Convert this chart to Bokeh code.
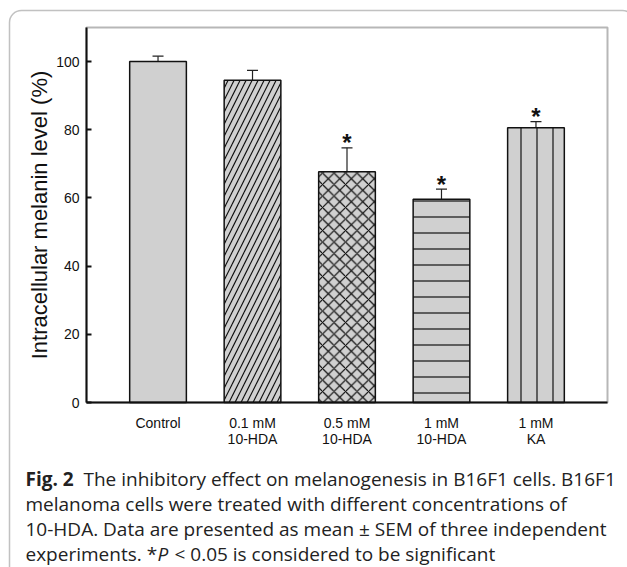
from bokeh.plotting import figure
from bokeh.models import (ColumnDataSource, Whisker, TeeHead, BoxAnnotation, Label,
                          FixedTicker, Range1d, LinearAxis)
from bokeh.embed import file_html
from bokeh.resources import INLINE
from bokeh.core.properties import value

# ---------------- data ----------------
categories = ["Control", "0.1 mM\n10-HDA", "0.5 mM\n10-HDA", "1 mM\n10-HDA", "1 mM\nKA"]
melanin = [100.0, 94.5, 67.7, 59.6, 80.6]
sem = [1.6, 2.9, 7.0, 3.0, 1.8]
significant = [False, False, True, True, True]
y_ticks = [0, 20, 40, 60, 80, 100]

# ---------------- styles / layout ----------------
hatches = [" ", "/", "x", "-", "|"]
hatch_scales = [12, 12, 11.5, 16, 16]
FONT = "Liberation Sans"
CAP_FONT = "Open Sans"

W, H = 627, 567                 # canvas
FL, FR, FT, FB = 86, 607, 27, 402   # chart box in canvas pixels
X_LO, X_HI = 0.243, 5.757       # category axis span
Y_LO, Y_HI = 0, 110             # value axis span

# ranges so that the chart box lands at FL..FR / FT..FB while the plot frame
# covers the whole canvas (frame, caption and outer border live inside it)
xpp = (X_HI - X_LO) / (FR - FL)
ypp = (Y_HI - Y_LO) / (FB - FT)
x_range = Range1d(X_LO - FL * xpp, X_HI + (W - FR) * xpp)
y_range = Range1d(Y_LO - (H - FB) * ypp, Y_HI + FT * ypp)

positions = list(range(1, len(categories) + 1))
src = ColumnDataSource(dict(
    x=positions,
    top=melanin,
    upper=[m + s for m, s in zip(melanin, sem)],
    hatch=hatches,
    hscale=hatch_scales,
))

p = figure(width=W, height=H, output_backend="svg", toolbar_location=None,
           x_range=x_range, y_range=y_range, x_axis_type=None, y_axis_type=None,
           min_border=0, background_fill_color="white", border_fill_color="white",
           outline_line_color=None)

p.vbar(x="x", top="top", bottom=0, width=0.6, source=src,
       fill_color="#d0d0d0", line_color="#111111", line_width=1.5,
       hatch_pattern="hatch", hatch_scale="hscale", hatch_color="#111111",
       hatch_weight=1.2)

whisk = Whisker(source=src, base="x", lower="top", upper="upper",
                line_color="#222222", line_width=1.2,
                upper_head=TeeHead(size=11, line_color="#222222", line_width=1.2),
                lower_head=None)
p.add_layout(whisk)

star_x = [x for x, s in zip(positions, significant) if s]
star_y = [m + e for m, e, s in zip(melanin, sem, significant) if s]
p.text(x=star_x, y=star_y, text=["*"] * len(star_x), text_align="center",
       text_baseline="alphabetic", text_font=value(FONT), text_font_size="24px",
       text_font_style="bold", text_color="#111111", y_offset=-5)

# chart box
p.add_layout(BoxAnnotation(left=X_LO, right=X_HI, bottom=Y_LO, top=Y_HI,
                           fill_color=None, fill_alpha=0,
                           line_color="#111111", line_width=2))

# axes fixed at the chart box edges
xaxis = LinearAxis(fixed_location=Y_LO, bounds=(X_LO, X_HI),
                   ticker=FixedTicker(ticks=positions))
xaxis.major_label_overrides = {x: lab for x, lab in zip(positions, categories)}
xaxis.major_tick_in = 0
xaxis.major_tick_out = 0
xaxis.minor_tick_line_color = None
xaxis.major_label_standoff = 12
xaxis.major_label_text_font = FONT
xaxis.major_label_text_font_size = "14px"
xaxis.major_label_text_line_height = 1.05
xaxis.major_label_text_color = "#111111"
xaxis.axis_line_width = 2
xaxis.axis_line_color = "#111111"
p.add_layout(xaxis, "below")

yaxis = LinearAxis(fixed_location=X_LO, bounds=(Y_LO, Y_HI),
                   ticker=FixedTicker(ticks=y_ticks))
yaxis.major_tick_in = 5
yaxis.major_tick_out = 0
yaxis.major_tick_line_width = 2
yaxis.major_tick_line_color = "#111111"
yaxis.minor_tick_line_color = None
yaxis.major_label_standoff = 7
yaxis.major_label_text_font = FONT
yaxis.major_label_text_font_size = "14px"
yaxis.major_label_text_color = "#111111"
yaxis.axis_line_width = 2
yaxis.axis_line_color = "#111111"
yaxis.axis_label = "Intracellular melanin level (%)"
yaxis.axis_label_text_font = FONT
yaxis.axis_label_text_font_size = "22px"
yaxis.axis_label_text_font_style = "normal"
yaxis.axis_label_text_color = "#111111"
yaxis.axis_label_standoff = 1
p.add_layout(yaxis, "left")

# outer rounded frame (runs off the right and bottom edges)
p.add_layout(BoxAnnotation(left=9, right=W + 7, top=10, bottom=H + 40,
                           left_units="canvas", right_units="canvas",
                           top_units="canvas", bottom_units="canvas",
                           fill_color=None, fill_alpha=0,
                           line_color="#333333", line_width=1.5, border_radius=12))

# caption
cap_size = "19px"
cap_color = "#222222"
line_y = [478, 503, 528, 553]
def cap(text, x, y, style="normal"):
    p.add_layout(Label(x=x, y=y, x_units="canvas", y_units="canvas", text=text,
                       text_font=CAP_FONT, text_font_size=cap_size,
                       text_font_style=style, text_color=cap_color,
                       text_baseline="middle", text_align="left"))

cap("Fig. 2", 25, line_y[0], "bold")
cap("The inhibitory effect on melanogenesis in B16F1 cells. B16F1", 83, line_y[0])
cap("melanoma cells were treated with different concentrations of", 25, line_y[1])
cap("10-HDA. Data are presented as mean \u00b1 SEM of three independent", 25, line_y[2])
cap("experiments. *", 25, line_y[3])
cap("P", 157, line_y[3], "italic")
cap("< 0.05 is considered to be significant", 174, line_y[3])

open("out.html", "w").write(file_html(p, INLINE))
